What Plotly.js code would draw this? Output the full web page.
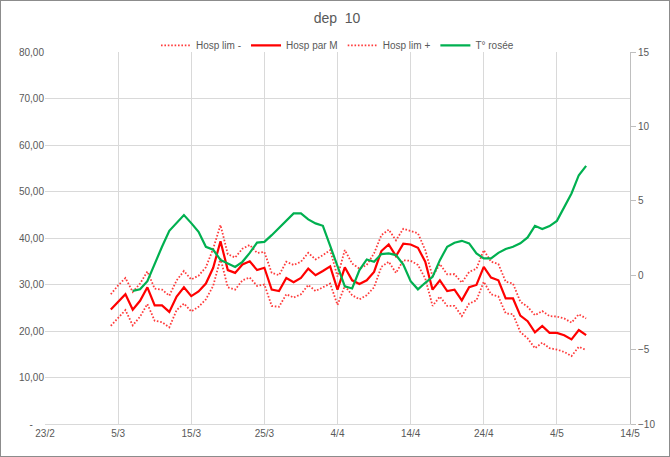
<!DOCTYPE html>
<html>
<head>
<meta charset="utf-8">
<script src="https://cdn.plot.ly/plotly-3.0.1.min.js"></script>
<style>
  html, body { margin: 0; padding: 0; background: #fff; }
  #chart { width: 670px; height: 457px; box-sizing: border-box; border: 1px solid #8c8c8c; }
</style>
</head>
<body>
<div id="chart"></div>
<script>
// ---- data ----
const hospStart = '2021-03-04';   // first day of the hospital series
const dewStart = '2021-03-07';    // first day of the dew point series

const hospLimMinus = [21.1, 22.9, 24.5, 21.2, 23.1, 25.8, 22.2, 21.9, 20.8, 24.5, 25.9, 24.2, 25.2, 26.8,
  29.7, 35.6, 29.4, 28.9, 30.9, 31.5, 29.7, 30.0, 25.4, 25.2, 27.9, 27.2, 27.9, 29.9, 28.6, 29.4, 30.2,
  25.6, 29.7, 27.7, 26.8, 27.7, 29.4, 33.8, 34.9, 32.5, 35.2, 35.1, 34.2, 31.3, 25.4, 27.4, 25.4, 25.4,
  23.2, 25.9, 26.6, 30.6, 27.9, 27.4, 23.8, 23.6, 19.8, 18.4, 16.3, 17.5, 16.3, 16.0, 15.5, 14.6, 16.6, 15.9];

const hospParM = [24.6, 26.3, 27.9, 24.6, 26.5, 29.4, 25.5, 25.5, 24.1, 27.4, 29.4, 27.5, 28.5, 30.2,
  33.6, 39.3, 33.1, 32.5, 34.3, 35.0, 33.1, 33.6, 28.9, 28.6, 31.4, 30.5, 31.4, 33.4, 32.0, 32.9, 33.9,
  28.9, 33.7, 30.9, 30.1, 30.9, 32.7, 37.2, 38.6, 36.1, 38.8, 38.6, 37.9, 34.9, 28.9, 30.9, 28.6, 28.9,
  26.6, 29.4, 29.9, 33.8, 31.5, 30.9, 27.0, 27.0, 23.3, 22.1, 19.7, 21.1, 19.6, 19.6, 19.1, 18.2, 20.2, 19.1];

const hospLimPlus = [27.9, 29.8, 31.4, 28.4, 30.2, 32.8, 29.1, 28.9, 27.6, 30.9, 32.9, 31.1, 31.9, 33.7,
  37.7, 42.8, 36.5, 35.8, 37.7, 38.5, 36.8, 37.0, 32.5, 32.0, 34.9, 34.2, 34.9, 36.8, 35.4, 36.3, 37.4,
  31.7, 37.4, 34.5, 33.4, 34.2, 36.7, 40.6, 41.8, 39.5, 42.0, 41.5, 41.0, 37.4, 31.7, 34.4, 32.2, 32.2,
  30.4, 32.7, 33.4, 37.4, 34.9, 34.4, 30.6, 30.2, 26.3, 25.2, 23.4, 24.3, 23.2, 23.1, 22.7, 21.8, 23.6, 22.7];

const dewPoint = [-1.05, -0.95, -0.4, 0.79, 1.91, 2.98, 3.52, 4.04, 3.5, 2.92, 1.91, 1.71, 1.03, 0.79,
  0.56, 0.90, 1.5, 2.19, 2.24, 2.69, 3.18, 3.65, 4.15, 4.15, 3.75, 3.48, 3.32, 1.97, 0.6, -0.75, -0.89,
  0.34, 1.06, 0.90, 1.42, 1.46, 1.35, 0.72, -0.4, -0.95, -0.51, -0.11, 1.01, 1.91, 2.18, 2.31, 2.14,
  1.46, 1.13, 1.13, 1.50, 1.76, 1.91, 2.14, 2.54, 3.32, 3.10, 3.30, 3.65, 4.55, 5.49, 6.72, 7.35];

const xTickDates = ['2021-02-23', '2021-03-05', '2021-03-15', '2021-03-25', '2021-04-04',
  '2021-04-14', '2021-04-24', '2021-05-04', '2021-05-14'];
const xTickLabels = ['23/2', '5/3', '15/3', '25/3', '4/4', '14/4', '24/4', '4/5', '14/5'];
const yLeftTicks = [0, 10, 20, 30, 40, 50, 60, 70, 80];
const yLeftLabels = ['-    ', '10,00', '20,00', '30,00', '40,00', '50,00', '60,00', '70,00', '80,00'];
const yRightTicks = [-10, -5, 0, 5, 10, 15];

// build daily date list
function days(start, n) {
  const out = [];
  const d0 = new Date(start + 'T00:00:00Z');
  for (let i = 0; i < n; i++) {
    const d = new Date(d0.getTime() + i * 86400000);
    out.push(d.toISOString().slice(0, 10));
  }
  return out;
}
const xHosp = days(hospStart, hospParM.length);
const xDew = days(dewStart, dewPoint.length);

const fam = 'Liberation Sans, Arial, sans-serif';

const traces = [
  { x: xHosp, y: hospLimMinus, name: 'Hosp lim -', type: 'scatter', mode: 'lines',
    line: { color: '#ff3b3b', width: 1.8, dash: '1.6px,1.8px' } },
  { x: xHosp, y: hospParM, name: 'Hosp par M', type: 'scatter', mode: 'lines',
    line: { color: '#ff0000', width: 2.2 } },
  { x: xHosp, y: hospLimPlus, name: 'Hosp lim +', type: 'scatter', mode: 'lines',
    line: { color: '#ff3b3b', width: 1.8, dash: '1.6px,1.8px' } },
  { x: xDew, y: dewPoint, name: 'T° rosée', type: 'scatter', mode: 'lines', yaxis: 'y2',
    line: { color: '#00b050', width: 2.2 } }
];

const layout = {
  width: 668, height: 455,
  margin: { l: 44, r: 39, t: 51, b: 32 },
  paper_bgcolor: '#ffffff', plot_bgcolor: '#ffffff',
  font: { family: fam, color: '#595959', size: 10 },
  title: { text: 'dep  10', x: 0.503, xanchor: 'center', y: 0.962, yanchor: 'middle',
    font: { family: fam, size: 14, color: '#595959' } },
  showlegend: true,
  legend: { orientation: 'h', x: 0.5, xanchor: 'center', y: 1.018, yanchor: 'middle',
    font: { family: fam, size: 10, color: '#595959' }, bgcolor: 'rgba(0,0,0,0)',
    itemwidth: 30, tracegroupgap: 0 },
  xaxis: {
    type: 'date', range: ['2021-02-23', '2021-05-14'],
    tickvals: xTickDates, ticktext: xTickLabels, ticks: '',
    showgrid: true, gridcolor: '#d9d9d9', gridwidth: 1,
    showline: true, linecolor: '#d9d9d9', linewidth: 1, mirror: false,
    zeroline: false, tickfont: { family: fam, size: 10, color: '#595959' },
    fixedrange: true
  },
  yaxis: {
    range: [0, 80], tickvals: yLeftTicks, ticktext: yLeftLabels,
    showgrid: true, gridcolor: '#d9d9d9', gridwidth: 1, zeroline: false,
    showline: false, ticks: '', ticklen: 0,
    tickfont: { family: fam, size: 10, color: '#595959' }
  },
  yaxis2: {
    overlaying: 'y', side: 'right', range: [-10, 15], tickvals: yRightTicks,
    showgrid: false, zeroline: false, showline: true, linecolor: '#bfbfbf', linewidth: 1,
    ticks: 'outside', ticklen: 5, tickcolor: '#bfbfbf',
    tickfont: { family: fam, size: 10, color: '#595959' }
  }
};

Plotly.newPlot('chart', traces, layout, { displayModeBar: false, staticPlot: true });
</script>
</body>
</html>
